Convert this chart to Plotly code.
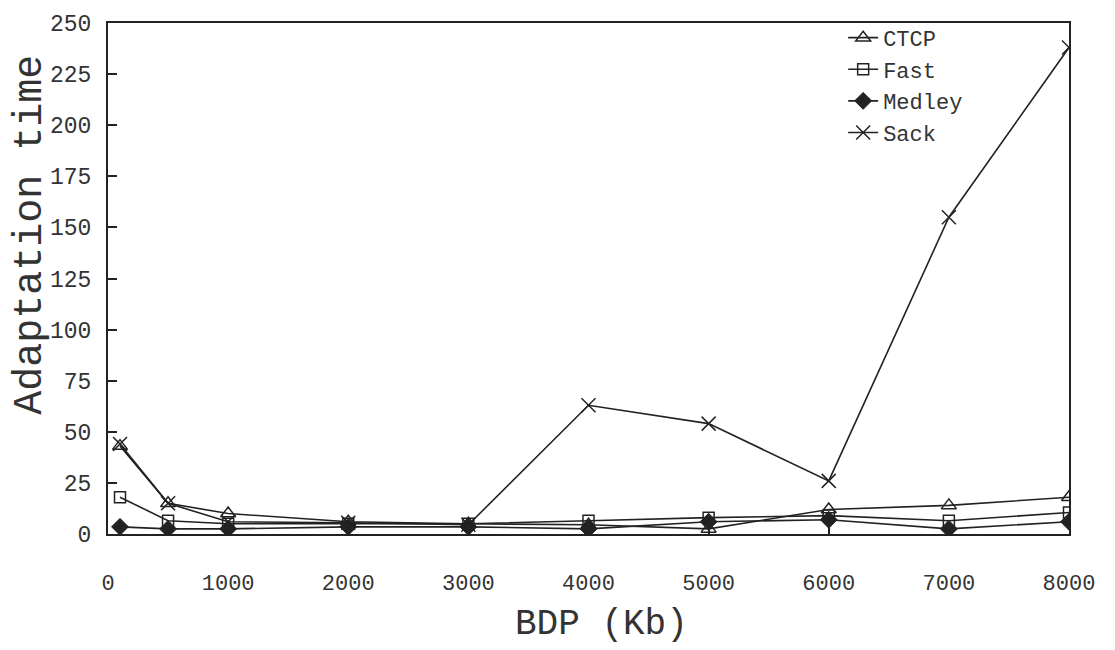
import plotly.graph_objects as go

bdp = [100, 500, 1000, 2000, 3000, 4000, 5000, 6000, 7000, 8000]
ctcp = [43, 15, 10, 6, 5, 4.5, 2.5, 12, 14, 18]
fast = [18, 6.5, 5, 5, 5, 6.5, 8, 9, 6.5, 10.5]
medley = [3.5, 2.5, 2.5, 3.5, 3.5, 2.5, 6, 7, 2.5, 6]
sack = [44, 15, 6, 5.5, 4.5, 63, 54, 26, 155, 238]

x_ticks = [0, 1000, 2000, 3000, 4000, 5000, 6000, 7000, 8000]
y_ticks = [0, 25, 50, 75, 100, 125, 150, 175, 200, 225, 250]

FONT = "Courier New, Liberation Mono, monospace"
LC = "#222222"
TC = "#333333"

series = [
    ("CTCP", ctcp, dict(symbol="triangle-up-open", size=13, color=LC, line=dict(width=1.5, color=LC))),
    ("Fast", fast, dict(symbol="square-open", size=11, color=LC, line=dict(width=1.5, color=LC))),
    ("Medley", medley, dict(symbol="diamond", size=13, color=LC, line=dict(width=1, color=LC))),
    ("Sack", sack, dict(symbol="x-thin-open", size=14, color=LC, line=dict(width=1.5, color=LC))),
]

fig = go.Figure()
for name, vals, mk in series:
    fig.add_trace(go.Scatter(x=bdp, y=vals, name=name, mode="lines+markers",
                             line=dict(color=LC, width=1.6), marker=mk))

fig.update_layout(
    width=1115, height=650,
    margin=dict(l=108, r=46, t=19, b=116),
    paper_bgcolor="white", plot_bgcolor="white",
    font=dict(family=FONT, color=TC),
    showlegend=True,
    legend=dict(x=0.765, y=1.012, xanchor="left", yanchor="top",
                font=dict(family=FONT, size=22, color=TC),
                bgcolor="rgba(0,0,0,0)", tracegroupgap=0, itemwidth=30),
    xaxis=dict(range=[0, 8000], tickvals=x_ticks, ticktext=[str(v) for v in x_ticks],
               ticks="inside", ticklen=9, tickwidth=1.5, tickcolor=LC,
               showline=True, linecolor=LC, linewidth=2, mirror=True,
               showgrid=False, zeroline=False,
               tickfont=dict(family=FONT, size=22, color=TC),
               ticklabelstandoff=28),
    yaxis=dict(range=[0, 250], tickvals=y_ticks, ticktext=[str(v) for v in y_ticks],
               ticks="inside", ticklen=9, tickwidth=1.5, tickcolor=LC,
               showline=True, linecolor=LC, linewidth=2, mirror=True,
               showgrid=False, zeroline=False,
               tickfont=dict(family=FONT, size=23, color=TC),
               ticklabelstandoff=10),
    annotations=[
        dict(text="Adaptation time", xref="paper", yref="paper", x=-0.081, y=0.586,
             textangle=-90, showarrow=False, xanchor="center", yanchor="middle",
             font=dict(family=FONT, size=40, color=TC)),
        dict(text="BDP (Kb)", xref="paper", yref="paper", x=0.514, y=-0.1767,
             showarrow=False, xanchor="center", yanchor="middle",
             font=dict(family=FONT, size=36, color=TC)),
    ],
)

fig.write_html("out.html")
